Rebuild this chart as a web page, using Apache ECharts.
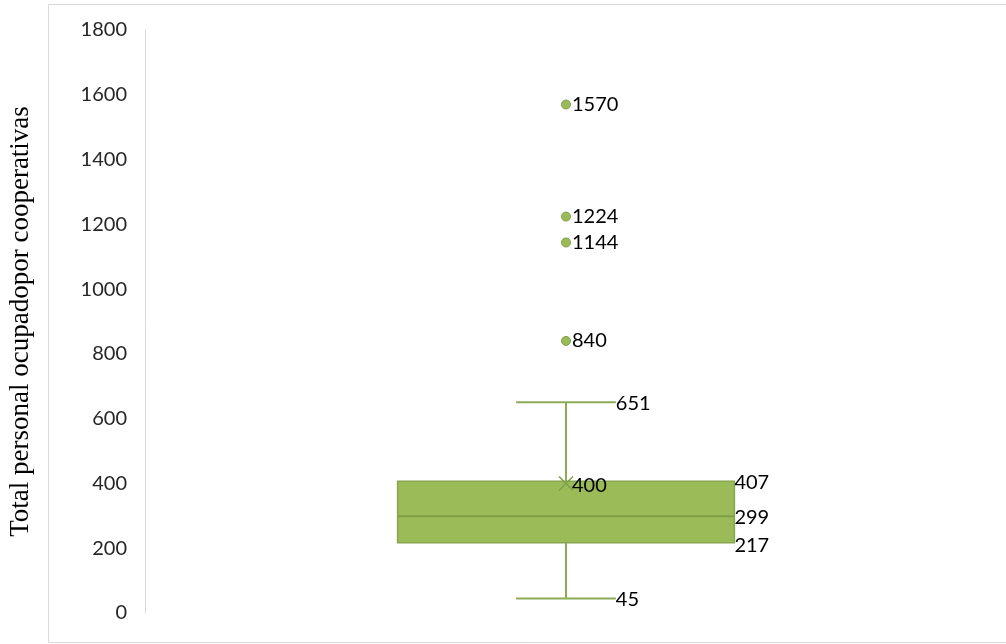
<!DOCTYPE html>
<html>
<head>
<meta charset="utf-8">
<script src="https://cdn.jsdelivr.net/npm/echarts@6/dist/echarts.min.js"></script>
<style>html,body{margin:0;padding:0;background:#fff}#c{width:1006px;height:644px}</style>
</head>
<body>
<div id="c"></div>
<script>
var categories = ['Cooperativas'];
// [min, Q1, median, Q3, max, mean]
var boxStats = [[45, 217, 299, 407, 651, 400]];
var outliers = [840, 1144, 1224, 1570];
var yTicks = {min: 0, max: 1800, interval: 200};
var yTitle = 'Total personal ocupadopor cooperativas';

var chart = echarts.init(document.getElementById('c'));
var labelFont = 'Lato, "Noto Sans", sans-serif';
var boxData = boxStats.map(function (s, i) { return [i].concat(s); });
var outlierData = outliers.map(function (v) { return [0, v]; });

chart.setOption({
  animation: false,
  graphic: [{
    type: 'rect', left: 46, top: 2, shape: {width: 958, height: 638},
    style: {fill: 'none', stroke: '#d9d9d9', lineWidth: 1}, silent: true
  }],
  grid: {left: 145, right: 19, top: 30, bottom: 31, outerBoundsMode: 'none', containLabel: false},
  xAxis: {type: 'category', data: categories, show: false},
  yAxis: {
    type: 'value', min: yTicks.min, max: yTicks.max, interval: yTicks.interval,
    name: yTitle, nameLocation: 'middle', nameGap: 111,
    nameTextStyle: {fontFamily: '"Liberation Serif", serif', fontSize: 27, color: '#000'},
    axisLine: {show: true, lineStyle: {color: '#d9d9d9', width: 1}},
    axisTick: {show: false},
    splitLine: {show: false},
    axisLabel: {fontFamily: labelFont, fontSize: 20, color: '#262626', margin: 18,
      formatter: function (v) { return String(v); }}
  },
  series: [{
    type: 'custom',
    data: boxData,
    renderItem: function (params, api) {
      var x = api.value(0);
      var bw = api.size([1, 0])[0] * 0.4;
      var capHalf = bw * 0.148;
      var pMin = api.coord([x, api.value(1)]);
      var pQ1 = api.coord([x, api.value(2)]);
      var pMed = api.coord([x, api.value(3)]);
      var pQ3 = api.coord([x, api.value(4)]);
      var pMax = api.coord([x, api.value(5)]);
      var pMean = api.coord([x, api.value(6)]);
      var cx = pMed[0];
      var left = cx - bw / 2, right = cx + bw / 2;
      var lc = '#8cab57';
      var ls = {stroke: lc, lineWidth: 2};
      var ts = function (t, px, py) {
        return {type: 'text', style: {text: t, x: px, y: py, fill: '#000', font: '20px ' + labelFont, textAlign: 'left', textVerticalAlign: 'middle'}};
      };
      return {
        type: 'group',
        children: [
          {type: 'line', shape: {x1: cx, y1: pMax[1], x2: cx, y2: pQ3[1]}, style: ls},
          {type: 'line', shape: {x1: cx, y1: pMin[1], x2: cx, y2: pQ1[1]}, style: ls},
          {type: 'line', shape: {x1: cx - capHalf, y1: pMax[1], x2: cx + capHalf, y2: pMax[1]}, style: ls},
          {type: 'line', shape: {x1: cx - capHalf, y1: pMin[1], x2: cx + capHalf, y2: pMin[1]}, style: ls},
          {type: 'rect', shape: {x: left, y: pQ3[1], width: bw, height: pQ1[1] - pQ3[1]}, style: {fill: '#9bbb59', stroke: '#86a64f', lineWidth: 1.5}},
          {type: 'line', shape: {x1: left, y1: pMed[1], x2: right, y2: pMed[1]}, style: {stroke: '#7f9e4a', lineWidth: 2}},
          {type: 'line', shape: {x1: pMean[0] - 7, y1: pMean[1] - 7, x2: pMean[0] + 7, y2: pMean[1] + 7}, style: {stroke: '#7f9e4a', lineWidth: 1.5}},
          {type: 'line', shape: {x1: pMean[0] - 7, y1: pMean[1] + 7, x2: pMean[0] + 7, y2: pMean[1] - 7}, style: {stroke: '#7f9e4a', lineWidth: 1.5}},
          ts(String(api.value(5)), cx + capHalf, pMax[1] + 1),
          ts(String(api.value(1)), cx + capHalf, pMin[1] + 1),
          ts(String(api.value(4)), right, pQ3[1] + 1),
          ts(String(api.value(3)), right, pMed[1] + 1),
          ts(String(api.value(2)), right, pQ1[1] + 3),
          ts(String(api.value(6)), pMean[0] + 6, pMean[1] + 2)
        ]
      };
    },
    z: 2
  }, {
    type: 'scatter',
    data: outlierData,
    symbol: 'circle',
    symbolSize: 9,
    itemStyle: {color: '#9bbb59', borderColor: '#7f9e4a', borderWidth: 1, opacity: 1},
    label: {
      show: true, position: 'right', distance: 1,
      formatter: function (p) { return p.value[1]; },
      fontFamily: labelFont, fontSize: 20, color: '#000'
    },
    z: 3
  }]
});
</script>
</body>
</html>
